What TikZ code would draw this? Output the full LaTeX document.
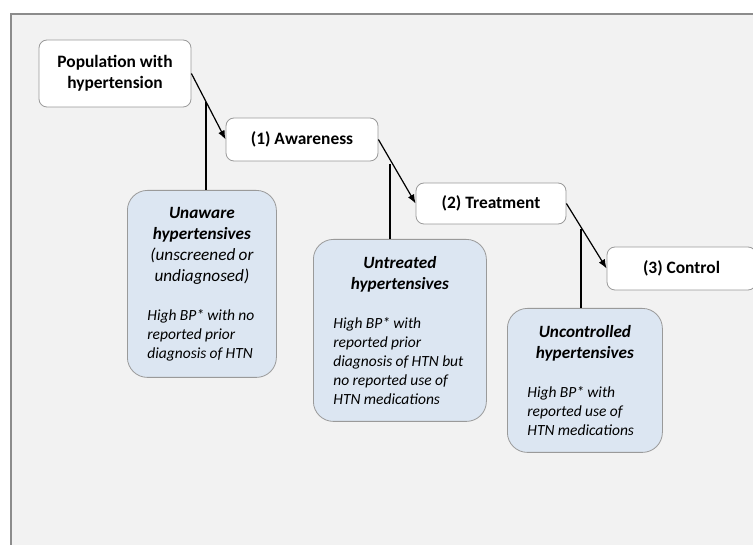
\documentclass[tikz,border=0pt]{standalone}
\usepackage{fontspec}
\setmainfont{Carlito}
\usetikzlibrary{arrows.meta}
\definecolor{bg}{HTML}{F2F2F2}
\definecolor{framec}{HTML}{8C8C8C}
\definecolor{boxline}{HTML}{9A9A9A}
\definecolor{bluefill}{HTML}{DCE6F2}
\newcommand{\titlef}{\fontsize{17.2}{21}\selectfont}
\newcommand{\bodyf}{\fontsize{15.5}{19}\selectfont}
\begin{document}
\begin{tikzpicture}[x=1pt,y=-1pt,
  stage/.style={draw=boxline, fill=white, rounded corners=8pt, line width=0.8pt,
    inner sep=0pt, font=\fontsize{17.4}{21}\selectfont\bfseries, align=center},
  groupbox/.style={draw=boxline, fill=bluefill, rounded corners=20pt, line width=0.8pt,
    inner xsep=20pt, inner ysep=0pt, anchor=north west},
  flow/.style={-{Latex[length=9pt,width=7pt]}, line width=1.2pt},
  branch/.style={line width=2pt}]
\useasboundingbox (0,0) rectangle (753,545);
\clip (0,0) rectangle (753,545);
\fill[bg] (11,14) rectangle (780,580);
\draw[framec, line width=1.2pt] (11,580) -- (11,14) -- (780,14);

\node[stage, minimum width=152pt, minimum height=67pt] (pop) at (115,73.5) {Population with\\hypertension};
\node[stage, minimum width=152pt, minimum height=43pt] (aw) at (302,139.5) {(1) Awareness};
\node[stage, minimum width=150pt, minimum height=41pt] (tr) at (491,203.5) {(2) Treatment};
\node[stage, minimum width=149pt, minimum height=43pt] (ct) at (681.5,268.5) {(3) Control};

\node[groupbox, text width=109pt, minimum height=187pt] (unaware) at (127,190) {%
  {\centering\titlef\bfseries\itshape Unaware\\hypertensives\\\mdseries(unscreened or\\undiagnosed)\par}%
  \vspace{20pt}%
  {\raggedright\bodyf\itshape High BP* with no\\reported prior\\diagnosis of HTN\par}};
\node[groupbox, text width=133pt, minimum height=182pt] (untreated) at (313,239) {%
  {\centering\titlef\bfseries\itshape Untreated\\hypertensives\par}%
  \vspace{20pt}%
  {\raggedright\bodyf\itshape High BP* with\\reported prior\\diagnosis of HTN but\\no reported use of\\HTN medications\par}};
\node[groupbox, text width=115pt, minimum height=144pt] (uncontrolled) at (507,308) {%
  {\centering\titlef\bfseries\itshape Uncontrolled\\hypertensives\par}%
  \vspace{20pt}%
  {\raggedright\bodyf\itshape High BP* with\\reported use of\\HTN medications\par}};

\draw[flow] (pop.east) -- (aw.west);
\draw[flow] (aw.east) -- (tr.west);
\draw[flow] (tr.east) -- (ct.west);

\coordinate (b1) at (206,102);
\coordinate (b2) at (390,164);
\coordinate (b3) at (581,229);
\draw[branch] (b1) -- (b1 |- unaware.north);
\draw[branch] (b2) -- (b2 |- untreated.north);
\draw[branch] (b3) -- (b3 |- uncontrolled.north);
\end{tikzpicture}
\end{document}
